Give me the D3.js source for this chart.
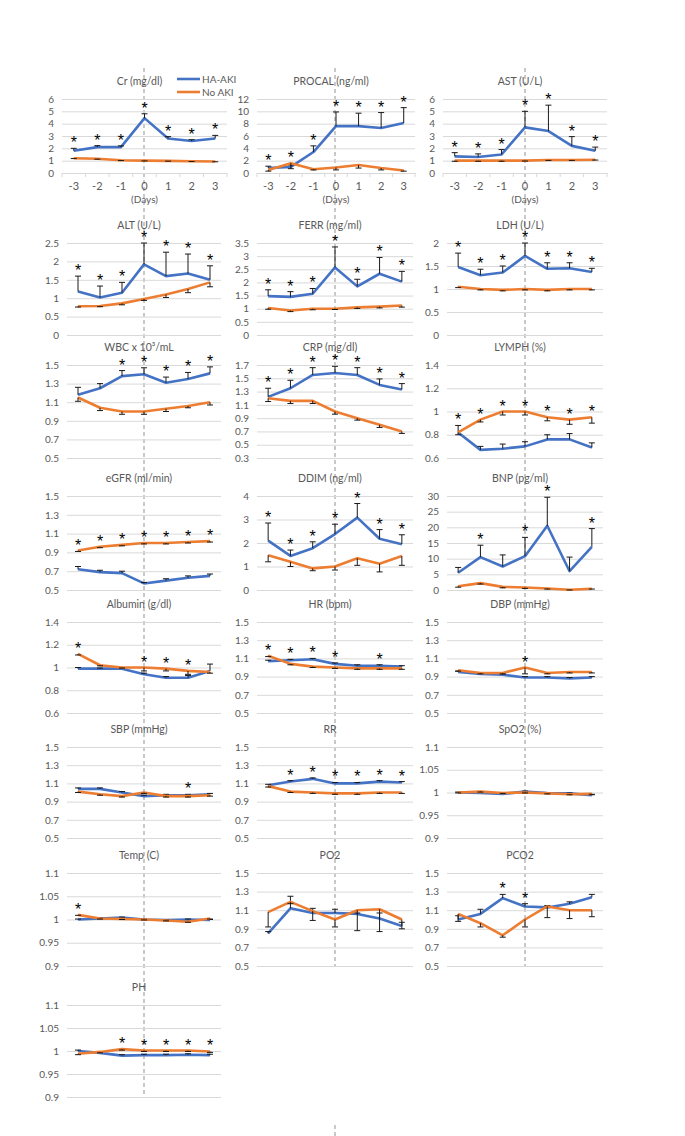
<!DOCTYPE html>
<html>
<head>
<meta charset="utf-8">
<script src="https://cdn.jsdelivr.net/npm/d3@7"></script>
<style>
body { margin: 0; background: #fff; }
svg { display: block; font-family: Lato, "Open Sans", sans-serif; }
</style>
</head>
<body>
<svg width="685" height="1136"></svg>
<script>
const days = [-3, -2, -1, 0, 1, 2, 3];
const seriesNames = ["HA-AKI", "No AKI"];

// Cr
const crTicks = [0, 1, 2, 3, 4, 5, 6];
const crAki = [1.8, 2.1, 2.1, 4.45, 2.8, 2.6, 2.8];
const crAkiErr = [0.2, 0.12, 0.1, 0.35, 0.15, 0.1, 0.25];
const crNo = [1.2, 1.15, 1.03, 1.0, 0.98, 0.95, 0.93];
const crNoErr = [0.03, 0.03, 0.02, 0.02, 0.02, 0.02, 0.02];
const crSig = [1, 1, 1, 1, 1, 1, 1];

// PROCAL
const procalTicks = [0, 2, 4, 6, 8, 10, 12];
const procalAki = [0.8, 1.0, 3.4, 7.6, 7.6, 7.3, 8.1];
const procalAkiErr = [0.3, 0.3, 1.0, 2.3, 2.1, 2.5, 2.5];
const procalNo = [0.5, 1.6, 0.6, 0.9, 1.3, 0.8, 0.4];
const procalNoErr = [0.2, 0.9, 0.1, 0.4, 0.5, 0.3, 0.1];
const procalSig = [1, 1, 1, 1, 1, 1, 1];

// AST
const astTicks = [0, 1, 2, 3, 4, 5, 6];
const astAki = [1.35, 1.3, 1.5, 3.7, 3.4, 2.2, 1.8];
const astAkiErr = [0.3, 0.25, 0.4, 1.3, 2.1, 0.75, 0.3];
const astNo = [1.0, 1.0, 1.0, 1.0, 1.05, 1.05, 1.08];
const astNoErr = [0.05, 0.05, 0.05, 0.03, 0.03, 0.03, 0.03];
const astSig = [1, 1, 1, 1, 1, 1, 1];

// ALT
const altTicks = [0, 0.5, 1, 1.5, 2, 2.5];
const altAki = [1.18, 1.02, 1.15, 1.92, 1.6, 1.67, 1.5];
const altAkiErr = [0.42, 0.31, 0.28, 0.58, 0.65, 0.53, 0.38];
const altNo = [0.78, 0.79, 0.86, 0.98, 1.1, 1.25, 1.43];
const altNoErr = [0.02, 0.02, 0.04, 0.04, 0.08, 0.1, 0.12];
const altSig = [1, 1, 1, 1, 1, 1, 1];

// FERR
const ferrTicks = [0, 0.5, 1, 1.5, 2, 2.5, 3, 3.5];
const ferrAki = [1.48, 1.45, 1.57, 2.57, 1.85, 2.33, 2.03];
const ferrAkiErr = [0.24, 0.2, 0.2, 0.78, 0.27, 0.62, 0.39];
const ferrNo = [1.03, 0.93, 1.0, 1.0, 1.05, 1.08, 1.12];
const ferrNoErr = [0.05, 0.04, 0.04, 0.03, 0.04, 0.05, 0.06];
const ferrSig = [1, 1, 1, 1, 1, 1, 1];

// LDH
const ldhTicks = [0, 0.5, 1, 1.5, 2];
const ldhAki = [1.48, 1.3, 1.36, 1.72, 1.44, 1.45, 1.37];
const ldhAkiErr = [0.3, 0.13, 0.14, 0.28, 0.13, 0.12, 0.08];
const ldhNo = [1.05, 1.0, 0.98, 1.0, 0.98, 1.0, 1.0];
const ldhNoErr = [0.02, 0.02, 0.02, 0.02, 0.02, 0.02, 0.02];
const ldhSig = [1, 1, 1, 1, 1, 1, 1];

// WBC
const wbcTicks = [0.5, 0.7, 0.9, 1.1, 1.3, 1.5];
const wbcAki = [1.18, 1.25, 1.38, 1.4, 1.31, 1.35, 1.41];
const wbcAkiErr = [0.08, 0.05, 0.06, 0.07, 0.06, 0.07, 0.07];
const wbcNo = [1.15, 1.04, 1.0, 1.0, 1.03, 1.06, 1.1];
const wbcNoErr = [0.04, 0.03, 0.03, 0.03, 0.03, 0.02, 0.03];
const wbcSig = [0, 0, 1, 1, 1, 1, 1];

// CRP
const crpTicks = [0.3, 0.5, 0.7, 0.9, 1.1, 1.3, 1.5, 1.7];
const crpAki = [1.22, 1.35, 1.55, 1.58, 1.55, 1.4, 1.33];
const crpAkiErr = [0.13, 0.12, 0.11, 0.1, 0.11, 0.09, 0.09];
const crpNo = [1.2, 1.16, 1.16, 1.0, 0.9, 0.8, 0.7];
const crpNoErr = [0.05, 0.04, 0.04, 0.04, 0.03, 0.04, 0.03];
const crpSig = [1, 1, 1, 1, 1, 1, 1];

// LYMPH
const lymphTicks = [0.6, 0.8, 1, 1.2, 1.4];
const lymphAki = [0.82, 0.67, 0.68, 0.7, 0.76, 0.76, 0.69];
const lymphAkiErr = [0.06, 0.03, 0.04, 0.04, 0.04, 0.05, 0.04];
const lymphNo = [0.82, 0.93, 1.0, 1.0, 0.95, 0.93, 0.95];
const lymphNoErr = [0.02, 0.02, 0.03, 0.03, 0.03, 0.04, 0.05];
const lymphSig = [1, 1, 1, 1, 1, 1, 1];

// eGFR
const egfrTicks = [0.5, 0.7, 0.9, 1.1, 1.3, 1.5];
const egfrAki = [0.72, 0.69, 0.68, 0.57, 0.6, 0.63, 0.65];
const egfrAkiErr = [0.03, 0.02, 0.02, 0.01, 0.02, 0.02, 0.02];
const egfrNo = [0.92, 0.96, 0.98, 1.0, 1.0, 1.01, 1.02];
const egfrNoErr = [0.01, 0.01, 0.01, 0.01, 0.01, 0.01, 0.01];
const egfrSig = [1, 1, 1, 1, 1, 1, 1];

// DDIM
const ddimTicks = [0, 1, 2, 3, 4];
const ddimAki = [2.1, 1.45, 1.78, 2.38, 3.08, 2.18, 1.95];
const ddimAkiErr = [0.75, 0.25, 0.27, 0.42, 0.6, 0.39, 0.4];
const ddimNo = [1.48, 1.2, 0.92, 1.0, 1.35, 1.12, 1.45];
const ddimNoErr = [0.28, 0.2, 0.1, 0.15, 0.3, 0.35, 0.4];
const ddimSig = [1, 1, 1, 1, 1, 1, 1];

// BNP
const bnpTicks = [0, 5, 10, 15, 20, 25, 30];
const bnpAki = [5.5, 10.5, 7.5, 10.8, 20.5, 6.0, 13.8];
const bnpAkiErr = [1.7, 3.8, 3.7, 6.0, 9.1, 4.5, 5.8];
const bnpNo = [1.2, 2.2, 1.0, 0.8, 0.5, 0.1, 0.4];
const bnpNoErr = [0.3, 0.3, 0.3, 0.3, 0.2, 0.1, 0.1];
const bnpSig = [0, 1, 0, 1, 1, 0, 1];

// Albumin
const albTicks = [0.6, 0.8, 1, 1.2, 1.4];
const albAki = [0.99, 0.99, 0.99, 0.94, 0.91, 0.91, 0.97];
const albAkiErr = [0.01, 0.005, 0.005, 0.01, 0.01, 0.02, 0.06];
const albNo = [1.12, 1.02, 1.0, 1.0, 0.99, 0.97, 0.96];
const albNoErr = [0.01, 0.005, 0.005, 0.03, 0.02, 0.03, 0.01];
const albSig = [1, 0, 0, 1, 1, 1, 0];

// HR
const hrTicks = [0.5, 0.7, 0.9, 1.1, 1.3, 1.5];
const hrAki = [1.07, 1.08, 1.09, 1.04, 1.02, 1.02, 1.01];
const hrAkiErr = [0.01, 0.01, 0.01, 0.01, 0.01, 0.01, 0.01];
const hrNo = [1.13, 1.04, 1.01, 1.0, 0.99, 0.99, 0.99];
const hrNoErr = [0.01, 0.01, 0.01, 0.01, 0.01, 0.01, 0.01];
const hrSig = [1, 1, 1, 1, 0, 1, 0];

// DBP
const dbpTicks = [0.5, 0.7, 0.9, 1.1, 1.3, 1.5];
const dbpAki = [0.95, 0.93, 0.92, 0.89, 0.89, 0.88, 0.89];
const dbpAkiErr = [0.01, 0.01, 0.01, 0.01, 0.01, 0.01, 0.01];
const dbpNo = [0.97, 0.94, 0.94, 1.0, 0.94, 0.95, 0.95];
const dbpNoErr = [0.01, 0.01, 0.01, 0.07, 0.01, 0.01, 0.01];
const dbpSig = [0, 0, 0, 1, 0, 0, 0];

// SBP
const sbpTicks = [0.5, 0.7, 0.9, 1.1, 1.3, 1.5];
const sbpAki = [1.04, 1.04, 1.0, 0.96, 0.97, 0.97, 0.98];
const sbpAkiErr = [0.01, 0.01, 0.01, 0.01, 0.01, 0.01, 0.01];
const sbpNo = [1.01, 0.98, 0.96, 1.0, 0.96, 0.96, 0.97];
const sbpNoErr = [0.01, 0.01, 0.01, 0.01, 0.01, 0.01, 0.01];
const sbpSig = [0, 0, 0, 0, 0, 1, 0];

// RR
const rrTicks = [0.5, 0.7, 0.9, 1.1, 1.3, 1.5];
const rrAki = [1.08, 1.12, 1.15, 1.1, 1.1, 1.12, 1.11];
const rrAkiErr = [0.01, 0.01, 0.01, 0.01, 0.01, 0.01, 0.01];
const rrNo = [1.07, 1.01, 1.0, 0.99, 0.99, 1.0, 1.0];
const rrNoErr = [0.01, 0.01, 0.01, 0.01, 0.01, 0.01, 0.01];
const rrSig = [0, 1, 1, 1, 1, 1, 1];

// SpO2
const spo2Ticks = [0.9, 0.95, 1, 1.05, 1.1];
const spo2Aki = [1.0, 0.999, 0.997, 1.002, 0.999, 0.998, 0.994];
const spo2AkiErr = [0.001, 0.001, 0.001, 0.001, 0.001, 0.001, 0.001];
const spo2No = [1.0, 1.002, 0.999, 1.0, 0.998, 0.996, 0.997];
const spo2NoErr = [0.001, 0.001, 0.001, 0.001, 0.001, 0.001, 0.001];
const spo2Sig = [0, 0, 0, 0, 0, 0, 0];

// Temp
const tempTicks = [0.9, 0.95, 1, 1.05, 1.1];
const tempAki = [1.0, 1.002, 1.004, 1.0, 0.999, 1.0, 0.999];
const tempAkiErr = [0.001, 0.001, 0.001, 0.001, 0.001, 0.001, 0.001];
const tempNo = [1.01, 1.002, 1.001, 1.0, 0.998, 0.995, 1.002];
const tempNoErr = [0.001, 0.001, 0.001, 0.001, 0.001, 0.001, 0.001];
const tempSig = [1, 0, 0, 0, 0, 0, 0];

// PO2
const po2Ticks = [0.5, 0.7, 0.9, 1.1, 1.3, 1.5];
const po2Aki = [0.85, 1.12, 1.07, 1.07, 1.06, 1.01, 0.93];
const po2AkiErr = [0.02, 0.13, 0.05, 0.04, 0.01, 0.06, 0.04];
const po2No = [1.08, 1.19, 1.09, 1.0, 1.1, 1.11, 1.0];
const po2NoErr = [0.16, 0.02, 0.1, 0.08, 0.22, 0.24, 0.1];
const po2Sig = [0, 0, 0, 0, 0, 0, 0];

// PCO2
const pco2Ticks = [0.5, 0.7, 0.9, 1.1, 1.3, 1.5];
const pco2Aki = [1.0, 1.06, 1.23, 1.14, 1.13, 1.17, 1.24];
const pco2AkiErr = [0.04, 0.05, 0.04, 0.03, 0.02, 0.02, 0.03];
const pco2No = [1.06, 0.96, 0.83, 1.0, 1.14, 1.1, 1.1];
const pco2NoErr = [0.08, 0.04, 0.02, 0.08, 0.12, 0.09, 0.07];
const pco2Sig = [0, 0, 1, 1, 0, 0, 0];

// PH
const phTicks = [0.9, 0.95, 1, 1.05, 1.1];
const phAki = [1.0, 0.996, 0.99, 0.991, 0.991, 0.992, 0.991];
const phAkiErr = [0.002, 0.002, 0.002, 0.002, 0.002, 0.002, 0.002];
const phNo = [0.994, 0.998, 1.004, 1.001, 1.001, 1.001, 0.999];
const phNoErr = [0.002, 0.002, 0.002, 0.002, 0.002, 0.002, 0.002];
const phSig = [0, 0, 1, 1, 1, 1, 1];

const panels = [
    ["Cr (mg/dl)", crTicks, crAki, crAkiErr, crNo, crNoErr, crSig],
    ["PROCAL (ng/ml)", procalTicks, procalAki, procalAkiErr, procalNo, procalNoErr, procalSig],
    ["AST (U/L)", astTicks, astAki, astAkiErr, astNo, astNoErr, astSig],
    ["ALT (U/L)", altTicks, altAki, altAkiErr, altNo, altNoErr, altSig],
    ["FERR (mg/ml)", ferrTicks, ferrAki, ferrAkiErr, ferrNo, ferrNoErr, ferrSig],
    ["LDH (U/L)", ldhTicks, ldhAki, ldhAkiErr, ldhNo, ldhNoErr, ldhSig],
    ["WBC x 10³/mL", wbcTicks, wbcAki, wbcAkiErr, wbcNo, wbcNoErr, wbcSig],
    ["CRP (mg/dl)", crpTicks, crpAki, crpAkiErr, crpNo, crpNoErr, crpSig],
    ["LYMPH (%)", lymphTicks, lymphAki, lymphAkiErr, lymphNo, lymphNoErr, lymphSig],
    ["eGFR (ml/min)", egfrTicks, egfrAki, egfrAkiErr, egfrNo, egfrNoErr, egfrSig],
    ["DDIM (ng/ml)", ddimTicks, ddimAki, ddimAkiErr, ddimNo, ddimNoErr, ddimSig],
    ["BNP (pg/ml)", bnpTicks, bnpAki, bnpAkiErr, bnpNo, bnpNoErr, bnpSig],
    ["Albumin (g/dl)", albTicks, albAki, albAkiErr, albNo, albNoErr, albSig],
    ["HR (bpm)", hrTicks, hrAki, hrAkiErr, hrNo, hrNoErr, hrSig],
    ["DBP (mmHg)", dbpTicks, dbpAki, dbpAkiErr, dbpNo, dbpNoErr, dbpSig],
    ["SBP (mmHg)", sbpTicks, sbpAki, sbpAkiErr, sbpNo, sbpNoErr, sbpSig],
    ["RR", rrTicks, rrAki, rrAkiErr, rrNo, rrNoErr, rrSig],
    ["SpO2 (%)", spo2Ticks, spo2Aki, spo2AkiErr, spo2No, spo2NoErr, spo2Sig],
    ["Temp (C)", tempTicks, tempAki, tempAkiErr, tempNo, tempNoErr, tempSig],
    ["PO2", po2Ticks, po2Aki, po2AkiErr, po2No, po2NoErr, po2Sig],
    ["PCO2", pco2Ticks, pco2Aki, pco2AkiErr, pco2No, pco2NoErr, pco2Sig],
    ["PH", phTicks, phAki, phAkiErr, phNo, phNoErr, phSig]
].map(p => ({
    title: p[0], ticks: p[1],
    aki: p[2], akiErr: p[3], no: p[4], noErr: p[5], sig: p[6]
}));

const attr = {
    rowTop: [99, 243, 365, 496, 622, 747, 873, 1005],
    rowH: [74, 92, 93, 94, 91, 91, 93, 92],
    colFirst: [[62, 227], [257, 415], [443, 607]],
    colRest: [[67, 221], [257, 413], [447, 603]],
    blue: "#4472c4",
    orange: "#ed7d31",
    grid: "#d9d9d9",
    text: "#595959"
};

const fmt = d3.format("~g");

function drawPanel(svg, p, i) {
    const row = Math.floor(i / 3);
    const col = i % 3;
    const xr = row === 0 ? attr.colFirst[col] : attr.colRest[col];
    const top = attr.rowTop[row];
    const bottom = top + attr.rowH[row];

    const scX = d3.scaleBand().domain(days).range(xr);
    const scY = d3.scaleLinear().domain(d3.extent(p.ticks)).range([bottom, top]);
    const band = scX.bandwidth();
    const cx = d => scX(d) + band / 2;

    const g = svg.append("g");

    // y axis with gridlines
    const yAxis = g.append("g")
        .attr("transform", `translate(${xr[0]},0)`)
        .call(d3.axisLeft(scY)
            .tickValues(p.ticks)
            .tickSize(-(xr[1] - xr[0]))
            .tickPadding(8)
            .tickFormat(fmt));
    yAxis.select(".domain").remove();
    yAxis.selectAll("line").attr("stroke", attr.grid);
    yAxis.selectAll("text")
        .attr("fill", attr.text)
        .style("font-size", "10px")
        .style("font-family", "Lato, sans-serif");

    // title
    g.append("text")
        .attr("x", (xr[0] + xr[1]) / 2 - 5)
        .attr("y", top - 18)
        .attr("dy", "0.35em")
        .attr("text-anchor", "middle")
        .attr("fill", attr.text)
        .style("font-size", "10.5px")
        .text(p.title);

    if (row === 0) {
        const xAxis = g.append("g")
            .attr("transform", `translate(0,${bottom})`)
            .call(d3.axisBottom(scX).tickSize(0).tickPadding(9));
        xAxis.select(".domain").attr("stroke", attr.grid);
        xAxis.selectAll("text")
            .attr("fill", attr.text)
            .style("font-size", "11px")
            .style("font-family", "Lato, sans-serif");
        g.selectAll(".xtick")
            .data(days.map(d => scX(d)).concat([xr[1]]))
            .enter()
            .append("line")
            .attr("x1", d => d).attr("x2", d => d)
            .attr("y1", bottom).attr("y2", bottom + 4)
            .attr("stroke", attr.grid);
        g.append("text")
            .attr("x", cx(0))
            .attr("y", bottom + 26)
            .attr("dy", "0.35em")
            .attr("text-anchor", "middle")
            .attr("fill", attr.text)
            .style("font-size", "10px")
            .text("(Days)");
    }

    const akiData = days.map((d, k) => ({ day: d, v: p.aki[k], e: p.akiErr[k] }));
    const noData = days.map((d, k) => ({ day: d, v: p.no[k], e: p.noErr[k] }));

    drawSeries(g, akiData, scX, scY, cx, attr.blue, +1);
    drawSeries(g, noData, scX, scY, cx, attr.orange, -1);

    // significance asterisks
    const stars = days
        .map((d, k) => ({
            day: d,
            y: Math.min(scY(p.aki[k] + p.akiErr[k]), scY(p.no[k])),
            s: p.sig[k]
        }))
        .filter(d => d.s);

    g.selectAll(".star")
        .data(stars)
        .enter()
        .append("text")
        .attr("x", d => cx(d.day))
        .attr("y", d => d.y)
        .attr("text-anchor", "middle")
        .attr("fill", "#000")
        .style("font-size", "16px")
        .style("font-family", "Liberation Sans, sans-serif")
        .text("*");

    return { scX, scY, cx, top, bottom };
}

function drawSeries(g, data, scX, scY, cx, color, dir) {
    const line = d3.line()
        .x(d => cx(d.day))
        .y(d => scY(d.v));

    g.append("path")
        .datum(data)
        .attr("fill", "none")
        .attr("stroke", color)
        .attr("stroke-width", 2.6)
        .attr("stroke-linejoin", "round")
        .attr("d", line);

    const bars = g.append("g");
    bars.selectAll("line.bar")
        .data(data)
        .enter()
        .append("line")
        .attr("x1", d => cx(d.day)).attr("x2", d => cx(d.day))
        .attr("y1", d => scY(d.v))
        .attr("y2", d => scY(d.v + dir * d.e))
        .attr("stroke", "#1a1a1a")
        .attr("stroke-width", 1);
    bars.selectAll("line.cap")
        .data(data)
        .enter()
        .append("line")
        .attr("x1", d => cx(d.day) - 3).attr("x2", d => cx(d.day) + 3)
        .attr("y1", d => scY(d.v + dir * d.e))
        .attr("y2", d => scY(d.v + dir * d.e))
        .attr("stroke", "#1a1a1a")
        .attr("stroke-width", 1);
}

function drawLegend(svg) {
    const items = [
        { name: seriesNames[0], color: attr.blue, y: 79 },
        { name: seriesNames[1], color: attr.orange, y: 92 }
    ];
    const lg = svg.append("g");
    lg.selectAll("line")
        .data(items)
        .enter()
        .append("line")
        .attr("x1", 177).attr("x2", 200)
        .attr("y1", d => d.y).attr("y2", d => d.y)
        .attr("stroke", d => d.color)
        .attr("stroke-width", 2.6);
    lg.selectAll("text")
        .data(items)
        .enter()
        .append("text")
        .attr("x", 202)
        .attr("y", d => d.y)
        .attr("dy", "0.35em")
        .attr("fill", attr.text)
        .style("font-size", "10px")
        .text(d => d.name);
}

function drawChart() {
    const svg = d3.select("svg");
    svg.selectAll("*").remove();

    // dashed day-0 guides, one per column, behind everything
    const guides = svg.append("g");
    const colBottom = [1097, 966, 966];
    const results = [];

    const layer = svg.append("g");
    panels.forEach((p, i) => results.push(drawPanel(layer, p, i)));

    [0, 1, 2].forEach(c => {
        const r = results[c + 3];
        guides.append("line")
            .attr("x1", r.cx(0)).attr("x2", r.cx(0))
            .attr("y1", 68).attr("y2", colBottom[c])
            .attr("stroke", "#a6a6a6")
            .attr("stroke-width", 1.2)
            .attr("stroke-dasharray", "4,3");
    });
    guides.append("line")
        .attr("x1", results[4].cx(0)).attr("x2", results[4].cx(0))
        .attr("y1", 1125).attr("y2", 1136)
        .attr("stroke", "#a6a6a6")
        .attr("stroke-width", 1.2)
        .attr("stroke-dasharray", "4,3");

    drawLegend(svg);
}

drawChart();
</script>
</body>
</html>
